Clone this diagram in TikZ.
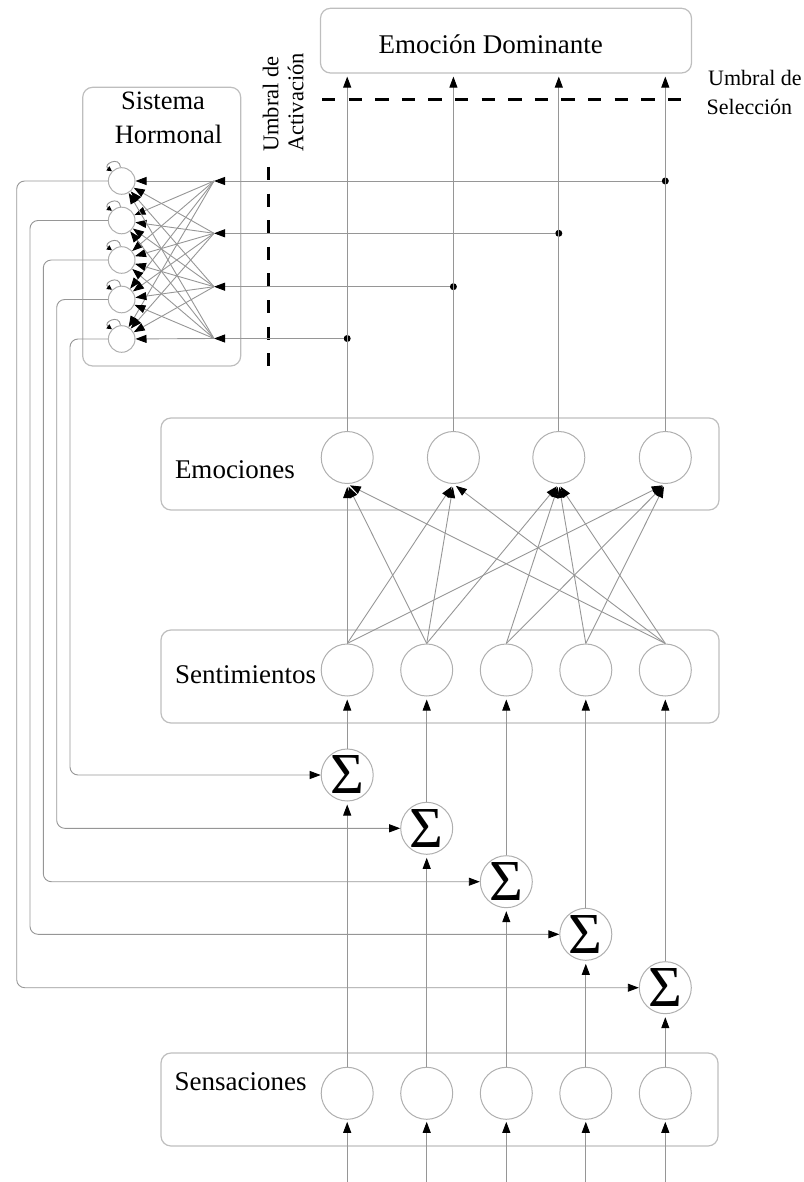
\documentclass[tikz,border=0pt]{standalone}
\usepackage{fontspec}
\setmainfont{Liberation Serif}
\usetikzlibrary{arrows.meta}
\definecolor{linegray}{RGB}{150,150,150}
\definecolor{circgray}{RGB}{175,175,175}
\definecolor{boxgray}{RGB}{190,190,190}
\begin{document}
\begin{tikzpicture}[x=1pt,y=1pt,
  conn/.style={draw=linegray, line width=0.9pt},
  arr/.style={conn, -{Triangle[length=11pt,width=8pt,color=black]}},
  loopar/.style={conn, -{Triangle[length=5pt,width=5pt,color=black]}},
  neuron/.style={circle, draw=circgray, line width=1pt, minimum size=52pt, inner sep=0pt},
  hneuron/.style={neuron, minimum size=26.6pt},
  sumnode/.style={neuron, font=\fontsize{58}{58}\selectfont},
  layerbox/.style={draw=boxgray, line width=1.2pt, rounded corners=10pt, inner sep=0pt},
  lbl/.style={font=\fontsize{27}{30}\selectfont, inner sep=0pt, anchor=base west},
  thrlbl/.style={font=\fontsize{22}{26}\selectfont, inner sep=0pt, anchor=base west},
  thr/.style={draw=black, line width=3pt, dash pattern=on 13.3pt off 13.3pt},
  dot/.style={circle, fill=black, inner sep=0pt, minimum size=7pt},
]
\useasboundingbox (0,0) rectangle (803,-1182);

% layer frames
\node[layerbox, minimum width=371pt, minimum height=64.7pt] (dom) at (506,-40.65) {};
\node[layerbox, minimum width=158pt, minimum height=278.7pt] (hbox) at (161.7,-226.65) {};
\node[layerbox, minimum width=558pt, minimum height=92pt] (ebox) at (440,-464) {};
\node[layerbox, minimum width=558pt, minimum height=93pt] (sbox) at (440,-676.5) {};
\node[layerbox, minimum width=557pt, minimum height=93pt] (nbox) at (439.5,-1099.5) {};

% labels
\node[font=\fontsize{27}{30}\selectfont, inner sep=0pt, anchor=base] (tDom) at (490.7,-53.3) {Emoción Dominante};
\node[font=\fontsize{26.5}{30}\selectfont, inner sep=0pt, anchor=base] (tSis) at (163,-110) {Sistema};
\node[font=\fontsize{26.5}{30}\selectfont, inner sep=0pt, anchor=base] (tHor) at (168.5,-143.3) {Hormonal};
\node[lbl] (tEmo) at (174.8,-478.3) {Emociones};
\node[lbl] (tSen) at (174.8,-683.3) {Sentimientos};
\node[lbl] (tSns) at (174.5,-1090) {Sensaciones};
\node[font=\fontsize{22.5}{26}\selectfont, inner sep=0pt, anchor=base west, rotate=90] (tUA1) at (278.3,-152) {Umbral de};
\node[font=\fontsize{22.5}{26}\selectfont, inner sep=0pt, anchor=base west, rotate=90] (tUA2) at (303.3,-152) {Activación};
\node[thrlbl] (tUS1) at (708,-86) {Umbral de};
\node[thrlbl] (tUS2) at (706.5,-114.5) {Selección};

% neurons
\foreach \i/\x in {1/347.2,2/453.4,3/558.8,4/665.3}
  \node[neuron] (E\i) at (\x,-457.5) {};
\foreach \i/\x in {1/347.2,2/426.7,3/506.3,4/585.8,5/665.3}{
  \node[neuron] (S\i) at (\x,-670) {};
  \node[neuron] (N\i) at (\x,-1093.3) {};
  \coordinate (in\i) at (\x,-1182);
}
\foreach \i/\x/\y in {1/347.2/775,2/426.7/828.3,3/506.3/881.7,4/585.8/934.3,5/665.3/987.7}
  \node[sumnode] (G\i) at (\x,-\y) {Σ};
\foreach \i/\y in {1/181,2/220.5,3/260,4/299.5,5/339}
  \node[hneuron] (H\i) at (121.7,-\y) {};
\foreach \i/\y in {1/181,2/233.3,3/286.7,4/338.5}
  \coordinate (R\i) at (214,-\y);

% activation threshold taps on the emotion outputs
\node[dot] (d1) at (347.2,-338.5) {};
\node[dot] (d2) at (453.4,-286.7) {};
\node[dot] (d3) at (558.8,-233.3) {};
\node[dot] (d4) at (665.3,-181) {};

% thresholds
\coordinate (act1) at (268.3,-167);
\coordinate (act2) at (268.3,-366);
\coordinate (sel1) at (322,-100);
\coordinate (sel2) at (684,-100);
\draw[thr] (act1) -- (act2);
\draw[thr] (sel1) -- (sel2);

% inputs and sensation -> sum -> feeling
\foreach \i in {1,...,5}{
  \draw[arr, shorten >=2pt] (in\i) -- (N\i.south);
  \draw[arr, shorten >=3pt] (N\i.north) -- (G\i.south);
  \draw[arr, shorten >=3pt] (G\i.north) -- (S\i.south);
}

% feelings -> emotions
\foreach \s/\e in {1/1,1/2,1/4,2/1,2/2,2/3,3/3,3/4,4/3,4/4,5/1,5/2,5/3}
  \draw[arr, shorten >=3pt] (S\s.north) -- (E\e.south);

% emotions -> dominant emotion
\foreach \i in {1,...,4}
  \draw[arr, shorten >=3pt] (E\i.north) -- (E\i.north |- dom.south);

% taps -> hormonal system
\draw[arr] (d4) -- (R1);
\draw[arr] (d3) -- (R2);
\draw[arr] (d2) -- (R3);
\draw[arr] (d1) -- (R4);
\foreach \r in {1,...,4}
  \foreach \h in {1,...,5}
    \draw[arr] (R\r) -- (H\h);

% hormonal self-excitation
\foreach \h in {1,...,5}
  \draw[loopar] (H\h.95) to[out=95,in=145,looseness=3.2] (H\h.135);

% hormonal feedback into the sums
\coordinate (cx1) at (16.7,0);
\coordinate (cx2) at (30,0);
\coordinate (cx3) at (43.3,0);
\coordinate (cx4) at (56.7,0);
\coordinate (cx5) at (70,0);
\foreach \h/\g in {5/1,4/2,3/3,2/4,1/5}
  \draw[arr, rounded corners=8pt] (H\h.west) -- (H\h.west -| cx\h) -- (cx\h |- G\g.west) -- (G\g.west);

\end{tikzpicture}
\end{document}
